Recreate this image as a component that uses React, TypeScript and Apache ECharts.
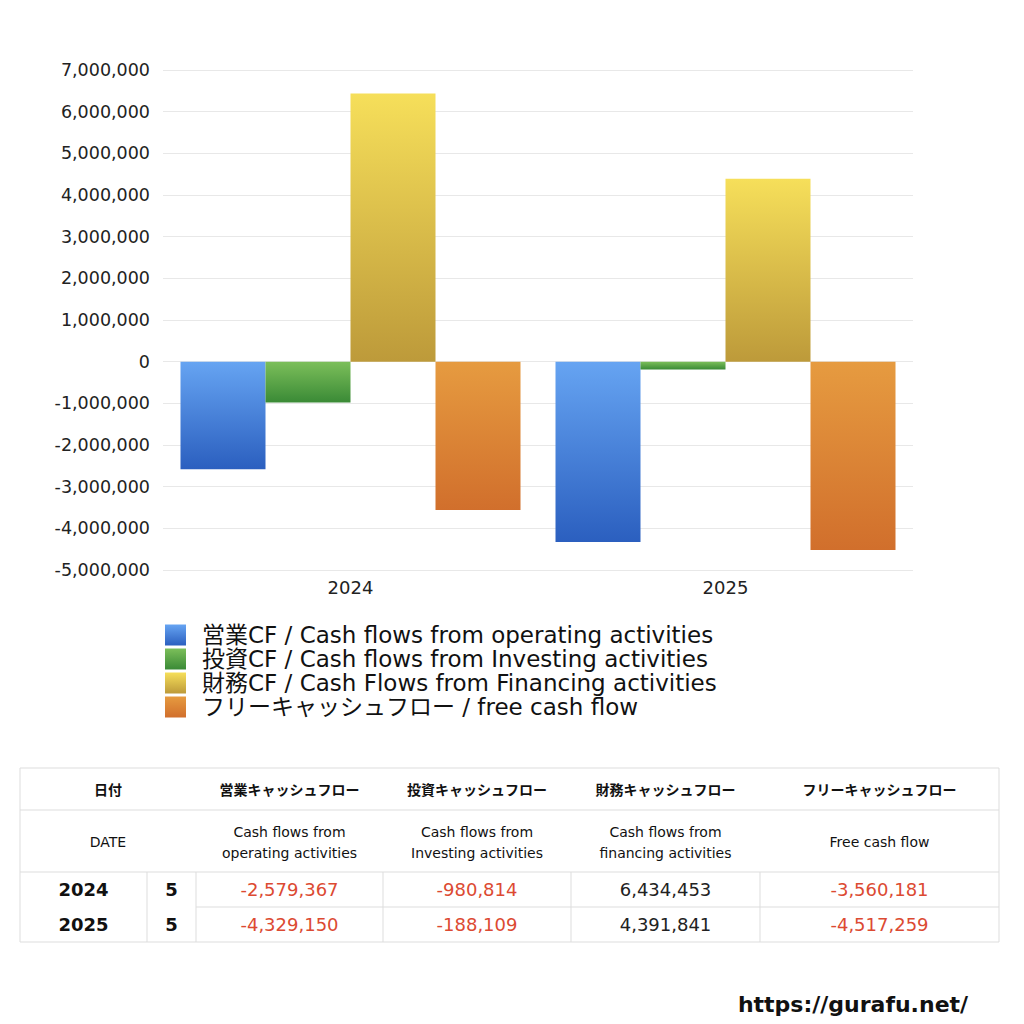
import React, { useEffect, useRef } from "react";
import * as echarts from "echarts";

const categories = ["2024", "2025"];
const months = ["5", "5"];
const operating = [-2579367, -4329150];
const investing = [-980814, -188109];
const financing = [6434453, 4391841];
const freeCF = [-3560181, -4517259];

const seriesNames = [
  "営業CF / Cash flows from operating activities",
  "投資CF / Cash flows from Investing activities",
  "財務CF / Cash Flows from Financing activities",
  "フリーキャッシュフロー / free cash flow",
];
const headerJa = ["日付", "営業キャッシュフロー", "投資キャッシュフロー", "財務キャッシュフロー", "フリーキャッシュフロー"];
const headerEn = ["DATE", "Cash flows from\noperating activities", "Cash flows from\nInvesting activities", "Cash flows from\nfinancing activities", "Free cash flow"];
const siteUrl = "https://gurafu.net/";

const FONT = '"DejaVu Sans", "Noto Sans CJK JP", sans-serif';
const JFONT = '"Noto Sans CJK JP", "DejaVu Sans", sans-serif';
const gradients = [
  ["#66a4f2", "#2b5fbf"],
  ["#7cbf5a", "#3a8a36"],
  ["#f6df5a", "#bd9a3a"],
  ["#e69b40", "#d16f2c"],
];

const fmt = (v: number) => v.toLocaleString("en-US");

export default function App() {
  const ref = useRef<HTMLDivElement>(null);
  useEffect(() => {
    if (!ref.current) return;
    const chart = echarts.init(ref.current, undefined, { renderer: "svg" });
    const grad = (i: number) =>
      new echarts.graphic.LinearGradient(0, 0, 0, 1, [
        { offset: 0, color: gradients[i][0] },
        { offset: 1, color: gradients[i][1] },
      ]);
    const allData = [operating, investing, financing, freeCF];

    // table layout
    const tx0 = 20, tx1 = 999;
    const rowY = [768, 810, 872, 907, 942];
    const colX = [20, 147, 196, 383, 571, 760, 999];
    const lineColor = "#dddddd";
    const g: any[] = [];
    g.push({ type: "rect", shape: { x: tx0, y: rowY[0], width: tx1 - tx0, height: rowY[4] - rowY[0] }, style: { fill: "#fff", stroke: lineColor, lineWidth: 1 } });
    g.push({ type: "line", shape: { x1: tx0, y1: rowY[1], x2: tx1, y2: rowY[1] }, style: { stroke: lineColor, lineWidth: 1 } });
    g.push({ type: "line", shape: { x1: tx0, y1: rowY[2], x2: tx1, y2: rowY[2] }, style: { stroke: lineColor, lineWidth: 1 } });
    g.push({ type: "line", shape: { x1: colX[2], y1: rowY[3], x2: tx1, y2: rowY[3] }, style: { stroke: lineColor, lineWidth: 1 } });
    for (let c = 1; c <= 5; c++) {
      g.push({ type: "line", shape: { x1: colX[c], y1: rowY[2], x2: colX[c], y2: rowY[4] }, style: { stroke: lineColor, lineWidth: 1 } });
    }
    const headCenters = [108, (colX[2] + colX[3]) / 2, (colX[3] + colX[4]) / 2, (colX[4] + colX[5]) / 2, (colX[5] + colX[6]) / 2];
    headerJa.forEach((t, i) => {
      g.push({ type: "text", x: headCenters[i], y: (rowY[0] + rowY[1]) / 2, style: { text: t, fill: "#111", font: `bold 14px ${JFONT}`, align: "center", verticalAlign: "middle" } });
    });
    headerEn.forEach((t, i) => {
      g.push({ type: "text", x: headCenters[i], y: (rowY[1] + rowY[2]) / 2 + 1, style: { text: t, fill: "#111", font: `14px ${FONT}`, align: "center", verticalAlign: "middle", lineHeight: 21 } });
    });
    categories.forEach((cat, r) => {
      const cy = (rowY[2 + r] + rowY[3 + r]) / 2;
      g.push({ type: "text", x: (colX[0] + colX[1]) / 2, y: cy, style: { text: cat, fill: "#111", font: `bold 18px ${FONT}`, align: "center", verticalAlign: "middle" } });
      g.push({ type: "text", x: (colX[1] + colX[2]) / 2, y: cy, style: { text: months[r], fill: "#111", font: `bold 18px ${FONT}`, align: "center", verticalAlign: "middle" } });
      allData.forEach((arr, k) => {
        const v = arr[r];
        g.push({ type: "text", x: (colX[2 + k] + colX[3 + k]) / 2, y: cy, style: { text: fmt(v), fill: v < 0 ? "#dc4a32" : "#222", font: `18px ${FONT}`, align: "center", verticalAlign: "middle" } });
      });
    });
    g.push({ type: "text", x: 853, y: 1004, style: { text: siteUrl, fill: "#111", font: `bold 22px ${FONT}`, align: "center", verticalAlign: "middle" } });

    chart.setOption({
      animation: false,
      backgroundColor: "#fff",
      textStyle: { fontFamily: FONT },
      grid: { left: 163, right: 111, top: 70, bottom: 454, containLabel: false },
      xAxis: {
        type: "category",
        data: categories,
        axisLine: { show: false },
        axisTick: { show: false },
        axisLabel: { fontSize: 18, color: "#222", margin: 8, fontFamily: FONT },
      },
      yAxis: {
        type: "value",
        min: -5000000,
        max: 7000000,
        interval: 1000000,
        axisLine: { show: false },
        axisTick: { show: false },
        splitLine: { lineStyle: { color: "#e8e8e8" } },
        axisLabel: { fontSize: 17.5, color: "#222", margin: 13, fontFamily: FONT, formatter: (v: number) => fmt(v) },
      },
      legend: {
        orient: "vertical",
        left: 160,
        top: 618,
        itemWidth: 21,
        itemHeight: 21,
        itemGap: 0,
        icon: "rect",
        textStyle: { fontSize: 23, color: "#111", lineHeight: 24, fontFamily: FONT, padding: [0, 0, 0, 11] },
        data: seriesNames,
      },
      series: allData.map((d, i) => ({
        name: seriesNames[i],
        type: "bar",
        data: d,
        barWidth: 85,
        barGap: "0%",
        itemStyle: { color: grad(i) },
      })),
      graphic: g,
    });
    return () => chart.dispose();
  }, []);
  return <div ref={ref} style={{ position: "fixed", left: 0, top: 0, width: 1024, height: 1024 }} />;
}
